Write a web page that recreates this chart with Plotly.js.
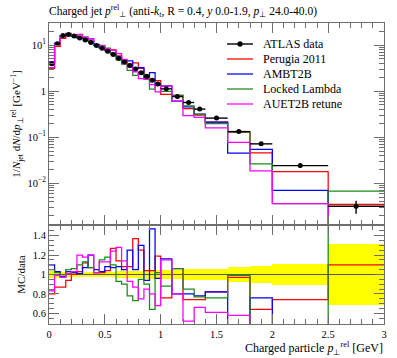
<!DOCTYPE html>
<html><head><meta charset="utf-8">
<script src="https://cdn.plot.ly/plotly-3.0.1.min.js"></script>
<style>html,body{margin:0;padding:0;background:#fff}#plot{width:397px;height:358px}</style>
</head><body><div id="plot"></div>
<script>
const binEdges = [0,0.05,0.1,0.15,0.2,0.25,0.3,0.35,0.4,0.45,0.5,0.55,0.6,0.65,0.7,0.75,0.8,0.85,0.9,0.95,1.0,1.1,1.2,1.3,1.4,1.6,1.8,2.0,2.5,3.0];
const atlasData = [3.9,10.7,16.0,17.0,15.6,14.2,12.8,11.3,9.8,8.5,7.3,6.2,5.1,4.3,3.6,3.0,2.5,2.1,1.72,1.42,1.12,0.76,0.565,0.406,0.259,0.132,0.0714,0.0241,0.00316];
const dataRelErr = [0.04,0.035,0.03,0.03,0.03,0.03,0.03,0.03,0.03,0.03,0.03,0.03,0.035,0.035,0.04,0.04,0.04,0.045,0.045,0.045,0.05,0.05,0.055,0.055,0.058,0.073,0.092,0.108,0.316];
const perugia2011Ratio = [0.80,0.87,0.87,0.94,1.00,1.03,1.12,1.07,1.02,1.02,1.04,1.27,1.14,1.08,1.08,1.37,1.25,1.04,1.04,1.19,0.76,1.06,0.74,0.74,0.82,0.97,0.64,0.74,1.10];
const ambt2bRatio = [1.10,1.03,0.98,1.03,1.02,1.01,1.07,1.20,1.05,1.03,1.08,1.07,1.08,1.05,1.25,1.05,1.30,0.94,1.47,0.96,1.16,0.80,0.80,0.78,0.82,0.34,0.76,0.29,0.00001];
const lockedLambdaRatio = [1.05,1.02,0.97,1.05,1.06,1.10,1.13,1.07,1.02,1.15,1.18,1.10,0.93,0.90,0.78,0.73,0.95,0.90,0.64,1.02,0.88,1.06,0.85,0.77,0.76,0.99,0.37,0.15,2.14];
const auet2bRetuneRatio = [0.83,0.99,0.97,1.01,1.03,1.20,1.18,1.20,1.02,1.13,1.13,1.24,1.28,1.14,0.93,0.87,0.75,0.85,0.80,0.68,1.15,0.80,0.52,0.66,0.61,0.58,0.26,0.15,0.00001];
const seriesNames = ['ATLAS data','Perugia 2011','AMBT2B','Locked Lambda','AUET2B retune'];
const seriesColors = ['#000000','#ff0000','#0000ff','#1a8a1a','#ff00ff'];
const xTickVals = [0,0.5,1,1.5,2,2.5,3];
const xTickText = ['0','0.5','1','1.5','2','2.5','3'];
const yTickVals = [0.01,0.1,1,10];
const yTickText = ['10<sup>−2</sup>','10<sup>−1</sup>','1','10<sup>1</sup>'];
const rTickVals = [0.6,0.8,1,1.2,1.4];
const rTickText = ['0.6','0.8','1','1.2','1.4'];

const FONT = 'Liberation Serif, serif';
const AX = '#6e6e6e';
const nb = atlasData.length;
const centers = [], halfW = [], widths = [];
for (let i = 0; i < nb; i++) {
  centers.push((binEdges[i] + binEdges[i+1]) / 2);
  halfW.push((binEdges[i+1] - binEdges[i]) / 2);
  widths.push(binEdges[i+1] - binEdges[i]);
}
function stepXY(vals) {
  const x = [], y = [];
  for (let i = 0; i < vals.length; i++) { x.push(binEdges[i]); y.push(vals[i]); }
  x.push(binEdges[vals.length]); y.push(vals[vals.length - 1]);
  return {x, y};
}
const mcRatios = [perugia2011Ratio, ambt2bRatio, lockedLambdaRatio, auet2bRetuneRatio];
const traces = [];
traces.push({type: 'bar', x: centers, width: widths, base: dataRelErr.map(e => 1 - e), y: dataRelErr.map(e => 2 * e),
  marker: {color: '#ffff00', line: {width: 0}}, xaxis: 'x2', yaxis: 'y2', showlegend: false, hoverinfo: 'skip'});
traces.push({type: 'scatter', mode: 'lines', x: [binEdges[0], binEdges[nb]], y: [1, 1], line: {color: '#555', width: 1},
  xaxis: 'x2', yaxis: 'y2', showlegend: false});
mcRatios.forEach((ratio, k) => {
  const top = stepXY(ratio.map((r, i) => r * atlasData[i]));
  traces.push({type: 'scatter', mode: 'lines', x: top.x, y: top.y, name: seriesNames[k+1], showlegend: false,
    line: {shape: 'hv', color: seriesColors[k+1], width: 1.25}, xaxis: 'x', yaxis: 'y'});
});
mcRatios.forEach((ratio, k) => {
  const r = stepXY(ratio);
  traces.push({type: 'scatter', mode: 'lines', x: r.x, y: r.y, name: seriesNames[k+1], showlegend: false,
    line: {shape: 'hv', color: seriesColors[k+1], width: 1.25}, xaxis: 'x2', yaxis: 'y2'});
});
traces.push({type: 'scatter', mode: 'markers', x: centers, y: atlasData, name: seriesNames[0], showlegend: false,
  marker: {color: '#000', size: 5},
  error_x: {type: 'data', array: halfW, width: 0, thickness: 1.4, color: '#000'},
  error_y: {type: 'data', array: atlasData.map((v, i) => v * dataRelErr[i]), width: 0, thickness: 1.4, color: '#000'},
  xaxis: 'x', yaxis: 'y'});

const shapes = [], annotations = [];
const legX0 = (227 - 49) / 335, legX1 = (253 - 49) / 335, legTx = (261 - 49) / 335;
seriesNames.forEach((nm, k) => {
  const yp = (324 - (44 + 15 * k)) / 301;
  shapes.push({type: 'line', xref: 'paper', yref: 'paper', x0: legX0, x1: legX1, y0: yp, y1: yp,
    line: {color: seriesColors[k], width: k === 0 ? 1.4 : 1.25}});
  if (k === 0) {
    shapes.push({type: 'circle', xref: 'paper', yref: 'paper', xsizemode: 'pixel', ysizemode: 'pixel',
      xanchor: (legX0 + legX1) / 2, yanchor: yp, x0: -2.5, x1: 2.5, y0: -2.5, y1: 2.5,
      fillcolor: '#000', line: {color: '#000', width: 0.5}});
  }
  annotations.push({text: nm, xref: 'paper', yref: 'paper', x: legTx, y: yp, xanchor: 'left', yanchor: 'middle',
    showarrow: false, font: {family: FONT, size: 12}});
});
annotations.push({text: 'Charged particle <i>p</i><sub>⊥</sub><sup>rel</sup> [GeV]', xref: 'paper', yref: 'paper',
  x: 1.003, y: -24 / 301, xanchor: 'right', yanchor: 'middle', showarrow: false, font: {family: FONT, size: 12}});

const xCommon = {range: [0, 3], tickvals: xTickVals, ticks: 'inside', ticklen: 10, tickcolor: AX, tickwidth: 1,
  minor: {dtick: 0.1, tick0: 0, ticks: 'inside', ticklen: 5, tickcolor: AX},
  showline: true, linecolor: AX, linewidth: 1, mirror: 'ticks', zeroline: false, showgrid: false};
const layout = {
  width: 397, height: 358,
  margin: {l: 49, r: 13, t: 23, b: 34},
  paper_bgcolor: '#fff', plot_bgcolor: '#fff',
  font: {family: FONT, color: '#000', size: 11},
  showlegend: false,
  title: {text: 'Charged jet <i>p</i><sup>rel</sup><sub>⊥</sub> (anti-<i>k</i><sub><i>t</i></sub>, R = 0.4, <i>y</i> 0.0-1.9, <i>p</i><sub>⊥</sub> 24.0-40.0)',
    font: {family: FONT, size: 11.5}, xref: 'paper', x: 0, xanchor: 'left', yref: 'container', y: 1 - 11 / 358, yanchor: 'middle'},
  xaxis: Object.assign({}, xCommon, {anchor: 'y', showticklabels: false}),
  xaxis2: Object.assign({}, xCommon, {anchor: 'y2', ticktext: xTickText, tickfont: {family: FONT, size: 10.5}}),
  yaxis: {domain: [0.329, 1], type: 'log', range: [-2.907, 1.478], tickvals: yTickVals, ticktext: yTickText,
    ticks: 'inside', ticklen: 10, tickcolor: AX, minor: {ticks: 'inside', ticklen: 5, tickcolor: AX, dtick: 'D1'},
    showline: true, linecolor: AX, mirror: 'ticks', zeroline: false, showgrid: false, tickfont: {family: FONT, size: 10.5},
    title: {text: '1/<i>N</i><sub>jet</sub> d<i>N</i>/d<i>p</i><sub>⊥</sub><sup>rel</sup> [GeV<sup>−1</sup>]', font: {family: FONT, size: 11}, standoff: 4}},
  yaxis2: {domain: [0, 0.329], range: [0.49, 1.51], tickvals: rTickVals, ticktext: rTickText,
    ticks: 'inside', ticklen: 10, tickcolor: AX, minor: {dtick: 0.05, tick0: 0, ticks: 'inside', ticklen: 5, tickcolor: AX},
    showline: true, linecolor: AX, mirror: 'ticks', zeroline: false, showgrid: false, tickfont: {family: FONT, size: 10.5},
    title: {text: 'MC/data', font: {family: FONT, size: 11}, standoff: 4}},
  shapes: shapes,
  annotations: annotations,
  bargap: 0
};
Plotly.newPlot('plot', traces, layout, {displayModeBar: false, staticPlot: true});
</script></body></html>
